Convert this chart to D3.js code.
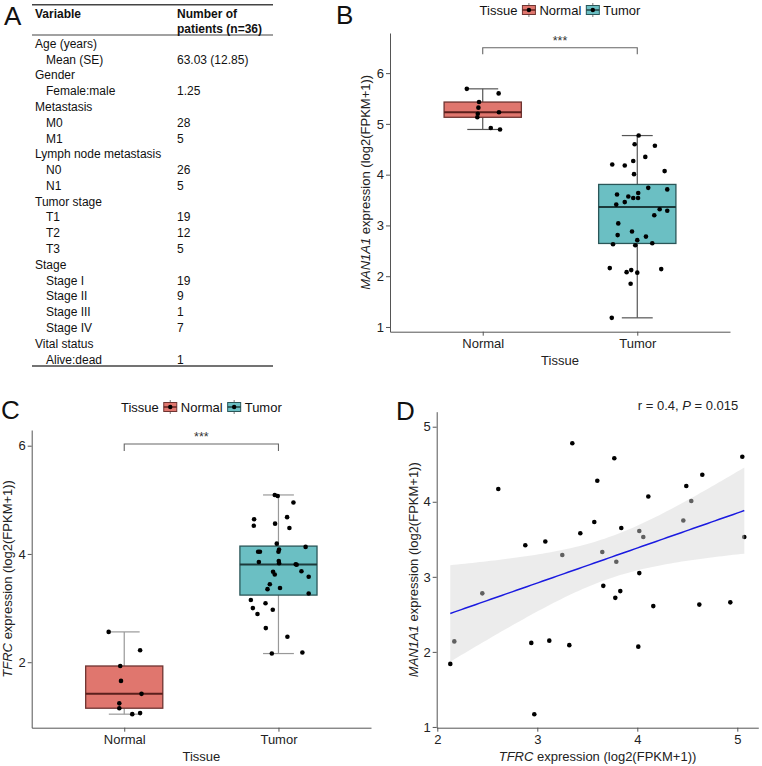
<!DOCTYPE html>
<html>
<head>
<meta charset="utf-8">
<script src="https://cdn.jsdelivr.net/npm/d3@7"></script>
<style>
  body { margin: 0; background: #fff; }
  svg { display: block; font-family: "Liberation Sans", Arial, sans-serif; }
</style>
</head>
<body>
<svg id="fig" width="762" height="766"></svg>
<script>
// ---- data ----
const tissues = ["Normal", "Tumor"];
const tissueFill = ["#e0766e", "#6bbfc3"];
const tissueStroke = ["#6e3431", "#2a5658"];
const tissueMedian = ["#5a1f1c", "#1c3a3b"];

// Panel A: clinical table
const tableHeader = ["Variable", "Number of", "patients (n=36)"];
const tableRows = [
  { label: "Age (years)", value: "", sub: false },
  { label: "Mean (SE)", value: "63.03 (12.85)", sub: true },
  { label: "Gender", value: "", sub: false },
  { label: "Female:male", value: "1.25", sub: true },
  { label: "Metastasis", value: "", sub: false },
  { label: "M0", value: "28", sub: true },
  { label: "M1", value: "5", sub: true },
  { label: "Lymph node metastasis", value: "", sub: false },
  { label: "N0", value: "26", sub: true },
  { label: "N1", value: "5", sub: true },
  { label: "Tumor stage", value: "", sub: false },
  { label: "T1", value: "19", sub: true },
  { label: "T2", value: "12", sub: true },
  { label: "T3", value: "5", sub: true },
  { label: "Stage", value: "", sub: false },
  { label: "Stage I", value: "19", sub: true },
  { label: "Stage II", value: "9", sub: true },
  { label: "Stage III", value: "1", sub: true },
  { label: "Stage IV", value: "7", sub: true },
  { label: "Vital status", value: "", sub: false },
  { label: "Alive:dead", value: "1", sub: true },
];

// Panel B: MAN1A1 expression (value, horizontal jitter in category units)
const manNormal = [5.69, 5.60, 5.43, 5.32, 5.20, 5.13, 5.23, 4.92, 4.89];
const manNormalJitter = [-0.103, 0.103, -0.024, -0.028, -0.032, -0.035, 0.105, 0.052, 0.112];
const manTumor = [4.77, 4.60, 4.57, 4.35, 4.20, 4.18, 4.27, 4.01, 4.07, 3.74, 3.71, 3.61,
  3.57, 3.64, 3.54, 3.54, 3.46, 3.41, 3.32, 3.29, 3.20, 3.04, 2.88, 2.81, 2.78, 2.71,
  2.63, 2.61, 2.65, 2.16, 2.14, 2.08, 2.12, 2.07, 1.85, 1.18];
const manTumorJitter = [0.009, -0.017, 0.114, 0.052, -0.162, -0.081, -0.026, -0.021, 0.177,
  0.071, 0.194, -0.131, -0.058, 0.006, -0.026, 0.005, -0.081, -0.136, 0.145, 0.194, 0.11,
  -0.123, -0.034, -0.127, 0.056, 0, -0.157, -0.013, 0.097, -0.178, 0.155, -0.069, -0.039,
  0, -0.043, -0.165];

// Panel C: TFRC expression
const tfrcNormal = [2.56, 2.22, 1.93, 1.655, 1.415, 1.24, 1.15, 1.04, 1.06];
const tfrcNormalJitter = [-0.101, 0.103, -0.026, -0.021, 0.112, -0.032, -0.032, 0.052, 0.103];
const tfrcTumor = [5.09, 5.07, 4.95, 4.64, 4.68, 4.52, 4.56, 4.48, 4.19, 4.13, 4.04, 4.04,
  4.08, 4.04, 3.85, 3.87, 3.83, 3.81, 3.80, 3.68, 3.67, 3.62, 3.58, 3.44, 3.35, 3.37, 3.27,
  3.15, 3.09, 3.00, 2.97, 2.89, 2.63, 2.47, 2.16, 2.18];
const tfrcTumorJitter = [-0.024, -0.005, 0.097, -0.158, 0.056, -0.16, -0.022, 0.071, -0.011,
  0.176, -0.132, -0.12, 0.004, 0, -0.127, 0.002, 0.004, 0.112, 0.118, 0.149, -0.035, -0.024,
  0.196, -0.056, -0.071, 0.01, 0.196, -0.179, -0.084, -0.166, -0.037, -0.136, -0.082, 0.058,
  -0.043, 0.155];

// Panel D: TFRC vs MAN1A1 in tumours
const corrTfrc = [2.61, 2.88, 3.08, 3.25, 3.35, 3.43, 3.60, 3.57, 3.65, 3.77, 3.79, 3.84,
  4.02, 4.06, 4.11, 4.46, 4.49, 4.54, 4.65, 5.05, 5.07, 2.13, 2.17, 2.45, 2.94, 2.97, 3.12,
  3.32, 3.66, 3.78, 3.83, 4.02, 4.01, 4.16, 4.62, 4.93];
const corrMan = [4.17, 3.42, 3.47, 3.29, 4.78, 3.58, 4.28, 3.73, 3.33, 4.58, 3.20, 3.65,
  3.61, 3.53, 4.07, 3.75, 4.21, 4.01, 4.36, 4.60, 3.53, 1.84, 2.14, 2.78, 2.12, 1.17, 2.15,
  2.09, 2.88, 2.72, 2.81, 3.05, 2.07, 2.61, 2.63, 2.66];
const corrLabel = { r: "0.4", p: "0.015" };

const svg = d3.select("#fig");
const FS = 13;

function panelLetter(txt, x, y) {
  svg.append("text").attr("x", x).attr("y", y)
    .attr("font-size", 26).attr("fill", "#111").text(txt);
}

// style an axis group the same way in every panel
function styleAxis(a, textOffset, vertical) {
  a.select(".domain").attr("stroke", "#555");
  a.selectAll(".tick line").attr("stroke", "#555");
  a.selectAll(".tick text").attr("font-size", FS).attr("fill", "#222")
    .attr("font-family", null).attr(vertical ? "x" : "y", textOffset);
}

// ---------- Panel A ----------
function drawTable() {
  const g = svg.append("g");
  const x0 = 32, x1 = 273, colX = 177, indent = 11;
  const line = (y, w) => g.append("line").attr("x1", x0).attr("x2", x1)
    .attr("y1", y).attr("y2", y).attr("stroke", "#444").attr("stroke-width", w);
  line(4.7, 1.6);
  line(35, 1.2);
  line(366, 1.6);

  g.append("text").attr("x", x0 + 3).attr("y", 18).attr("font-size", 12)
    .attr("font-weight", "bold").attr("fill", "#111").text(tableHeader[0]);
  g.append("text").attr("x", colX).attr("y", 18).attr("font-size", 12)
    .attr("font-weight", "bold").attr("fill", "#111").text(tableHeader[1]);
  g.append("text").attr("x", colX).attr("y", 33).attr("font-size", 12)
    .attr("font-weight", "bold").attr("fill", "#111").text(tableHeader[2]);

  const rowY = d3.scaleLinear().domain([0, tableRows.length - 1]).range([43.5, 359.3]);
  const rows = g.selectAll("g.row").data(tableRows).join("g").attr("class", "row");
  rows.append("text")
    .attr("x", (d) => x0 + 3 + (d.sub ? indent : 0))
    .attr("y", (d, i) => rowY(i) + 4.3)
    .attr("font-size", 12).attr("fill", "#111")
    .text((d) => d.label);
  rows.append("text")
    .attr("x", colX)
    .attr("y", (d, i) => rowY(i) + 4.3)
    .attr("font-size", 12).attr("fill", "#111")
    .text((d) => d.value);
}

// ---------- boxplot panels (B, C) ----------
function boxStats(values) {
  const s = values.slice().sort(d3.ascending);
  const q1 = d3.quantile(s, 0.25), med = d3.quantile(s, 0.5), q3 = d3.quantile(s, 0.75);
  const iqr = q3 - q1;
  const lo = d3.min(s.filter((v) => v >= q1 - 1.5 * iqr));
  const hi = d3.max(s.filter((v) => v <= q3 + 1.5 * iqr));
  return { q1, med, q3, lo, hi };
}

function drawLegend(cx, cy) {
  const g = svg.append("g");
  let x = 0;
  const t = g.append("text").attr("x", x).attr("y", cy + 4.6)
    .attr("font-size", FS).attr("fill", "#111").text("Tissue");
  x += t.node().getComputedTextLength() + 5;
  tissues.forEach((name, i) => {
    const k = g.append("g").attr("transform", `translate(${x},${cy})`);
    k.append("line").attr("x1", 6.5).attr("x2", 6.5).attr("y1", -7).attr("y2", 7)
      .attr("stroke", "#777").attr("stroke-width", 1);
    k.append("rect").attr("x", 0).attr("y", -4.5).attr("width", 13).attr("height", 9)
      .attr("fill", tissueFill[i]).attr("stroke", tissueStroke[i]).attr("stroke-width", 1);
    k.append("line").attr("x1", 0).attr("x2", 13).attr("y1", 0).attr("y2", 0)
      .attr("stroke", tissueMedian[i]).attr("stroke-width", 1.4);
    k.append("circle").attr("cx", 6.5).attr("cy", 0).attr("r", 2.2).attr("fill", "#000");
    x += 17;
    const lab = g.append("text").attr("x", x).attr("y", cy + 4.6)
      .attr("font-size", FS).attr("fill", "#111").text(name);
    x += lab.node().getComputedTextLength() + 5;
  });
  g.attr("transform", `translate(${cx - (x - 5) / 2},0)`);
}

function drawBoxPanel({ left, right, top, bottom, yDomain, yTicks, groups, jitters,
  yTitle, yTitleItalic, bracket, whiskerColor }) {
  const x = d3.scaleLinear().domain([0.4, 2.6]).range([left, right]);
  const y = d3.scaleLinear().domain(yDomain).range([bottom, top]);
  const g = svg.append("g");

  // axes
  g.append("g").attr("transform", `translate(${left},0)`)
    .call(d3.axisLeft(y).tickValues(yTicks).tickSize(4).tickSizeOuter(0).tickFormat(d3.format("d")))
    .call((a) => styleAxis(a, -6, true));
  g.append("g").attr("transform", `translate(0,${bottom})`)
    .call(d3.axisBottom(x).tickValues([1, 2]).tickSize(4).tickSizeOuter(0)
      .tickFormat((d) => tissues[d - 1]))
    .call((a) => styleAxis(a, 7, false));

  // axis titles
  g.append("text").attr("x", (left + right) / 2).attr("y", bottom + 33)
    .attr("text-anchor", "middle").attr("font-size", FS).attr("fill", "#222").text("Tissue");
  const yt = g.append("text")
    .attr("transform", `translate(${left - 20},${(top + bottom) / 2}) rotate(-90)`)
    .attr("text-anchor", "middle").attr("font-size", FS).attr("fill", "#222");
  yt.append("tspan").attr("font-style", "italic").text(yTitleItalic);
  yt.append("tspan").text(yTitle);

  // boxes
  groups.forEach((vals, i) => {
    const c = i + 1;
    const s = boxStats(vals);
    const bg = g.append("g");
    bg.append("line").attr("x1", x(c)).attr("x2", x(c)).attr("y1", y(s.hi)).attr("y2", y(s.q3))
      .attr("stroke", whiskerColor).attr("stroke-width", 1.2);
    bg.append("line").attr("x1", x(c)).attr("x2", x(c)).attr("y1", y(s.q1)).attr("y2", y(s.lo))
      .attr("stroke", whiskerColor).attr("stroke-width", 1.2);
    [s.hi, s.lo].forEach((v) => bg.append("line")
      .attr("x1", x(c - 0.1)).attr("x2", x(c + 0.1)).attr("y1", y(v)).attr("y2", y(v))
      .attr("stroke", whiskerColor).attr("stroke-width", 1.2));
    bg.append("rect").attr("x", x(c - 0.25)).attr("width", x(c + 0.25) - x(c - 0.25))
      .attr("y", y(s.q3)).attr("height", y(s.q1) - y(s.q3))
      .attr("fill", tissueFill[i]).attr("stroke", tissueStroke[i]).attr("stroke-width", 1.3);
    bg.append("line").attr("x1", x(c - 0.25)).attr("x2", x(c + 0.25))
      .attr("y1", y(s.med)).attr("y2", y(s.med))
      .attr("stroke", tissueMedian[i]).attr("stroke-width", 2);
  });

  // jittered points
  groups.forEach((vals, i) => {
    g.append("g").selectAll("circle").data(vals).join("circle")
      .attr("cx", (d, j) => x(i + 1 + jitters[i][j]))
      .attr("cy", (d) => y(d))
      .attr("r", 2.3).attr("fill", "#000");
  });

  // significance bracket
  const [yb, ytk] = bracket;
  g.append("path")
    .attr("d", `M${x(1)},${y(ytk)}V${y(yb)}H${x(2)}V${y(ytk)}`)
    .attr("fill", "none").attr("stroke", "#666").attr("stroke-width", 1.1);
  g.append("text").attr("x", (x(1) + x(2)) / 2).attr("y", y(yb) - 3)
    .attr("text-anchor", "middle").attr("font-size", 12.5).attr("fill", "#333").text("***");

  drawLegend((left + right) / 2, top - 23);
}

// ---------- Panel D ----------
function drawScatter() {
  const left = 436.7, right = 758.3, top = 411.7, bottom = 727.7;
  const x = d3.scaleLinear().domain([1.994, 5.21]).range([left, right]);
  const y = d3.scaleLinear().domain([0.99, 5.2]).range([bottom, top]);
  const g = svg.append("g");

  g.append("g").attr("transform", `translate(${left},0)`)
    .call(d3.axisLeft(y).tickValues([1, 2, 3, 4, 5]).tickSize(4).tickSizeOuter(0)
      .tickFormat(d3.format("d")))
    .call((a) => styleAxis(a, -6, true));
  g.append("g").attr("transform", `translate(0,${bottom})`)
    .call(d3.axisBottom(x).tickValues([2, 3, 4, 5]).tickSize(4).tickSizeOuter(0)
      .tickFormat(d3.format("d")))
    .call((a) => styleAxis(a, 7, false));

  const xt = g.append("text").attr("x", (left + right) / 2).attr("y", bottom + 33)
    .attr("text-anchor", "middle").attr("font-size", FS).attr("fill", "#222");
  xt.append("tspan").attr("font-style", "italic").text("TFRC");
  xt.append("tspan").text(" expression (log2(FPKM+1))");
  const yt = g.append("text")
    .attr("transform", `translate(${left - 19},${(top + bottom) / 2}) rotate(-90)`)
    .attr("text-anchor", "middle").attr("font-size", FS).attr("fill", "#222");
  yt.append("tspan").attr("font-style", "italic").text("MAN1A1");
  yt.append("tspan").text(" expression (log2(FPKM+1))");

  // points (drawn under the confidence band, as in the figure)
  const pts = corrTfrc.map((v, i) => [v, corrMan[i]]);
  g.append("g").selectAll("circle").data(pts).join("circle")
    .attr("cx", (d) => x(d[0])).attr("cy", (d) => y(d[1]))
    .attr("r", 2.3).attr("fill", "#000");

  // linear fit with 95% confidence band
  const n = pts.length;
  const mx = d3.mean(corrTfrc), my = d3.mean(corrMan);
  const sxx = d3.sum(corrTfrc, (v) => (v - mx) ** 2);
  const sxy = d3.sum(pts, (d) => (d[0] - mx) * (d[1] - my));
  const b = sxy / sxx, a = my - b * mx;
  const sse = d3.sum(pts, (d) => (d[1] - (a + b * d[0])) ** 2);
  const s = Math.sqrt(sse / (n - 2));
  const tq = 2.032;
  const [xmin, xmax] = d3.extent(corrTfrc);
  const grid = d3.range(0, 81).map((k) => xmin + (xmax - xmin) * k / 80);
  const band = grid.map((xv) => {
    const fit = a + b * xv;
    const se = s * Math.sqrt(1 / n + (xv - mx) ** 2 / sxx);
    return { x: xv, fit, lo: fit - tq * se, hi: fit + tq * se };
  });
  g.append("path").datum(band)
    .attr("d", d3.area().x((d) => x(d.x)).y0((d) => y(d.lo)).y1((d) => y(d.hi)))
    .attr("fill", "#d5d5d5").attr("fill-opacity", 0.45);
  g.append("path").datum(band)
    .attr("d", d3.line().x((d) => x(d.x)).y((d) => y(d.fit)))
    .attr("fill", "none").attr("stroke", "#1a1ae0").attr("stroke-width", 1.5);

  const lab = g.append("text").attr("x", right - 20).attr("y", 409.5)
    .attr("text-anchor", "end").attr("font-size", FS).attr("fill", "#222");
  lab.append("tspan").text(`r = ${corrLabel.r}, `);
  lab.append("tspan").attr("font-style", "italic").text("P");
  lab.append("tspan").text(` = ${corrLabel.p}`);
}

drawTable();
drawBoxPanel({
  left: 390, right: 730, top: 33, bottom: 331.7,
  yDomain: [0.907, 6.79], yTicks: [1, 2, 3, 4, 5, 6],
  groups: [manNormal, manTumor], jitters: [manNormalJitter, manTumorJitter],
  yTitleItalic: "MAN1A1", yTitle: " expression (log2(FPKM+1))",
  bracket: [6.50, 6.37], whiskerColor: "#555",
});
drawBoxPanel({
  left: 31.7, right: 371, top: 430, bottom: 727.7,
  yDomain: [0.79, 6.29], yTicks: [2, 4, 6],
  groups: [tfrcNormal, tfrcTumor], jitters: [tfrcNormalJitter, tfrcTumorJitter],
  yTitleItalic: "TFRC", yTitle: " expression (log2(FPKM+1))",
  bracket: [6.03, 5.90], whiskerColor: "#999",
});
drawScatter();

panelLetter("A", 4, 25);
panelLetter("B", 336, 24);
panelLetter("C", 1, 419);
panelLetter("D", 396, 420);
</script>
</body>
</html>
